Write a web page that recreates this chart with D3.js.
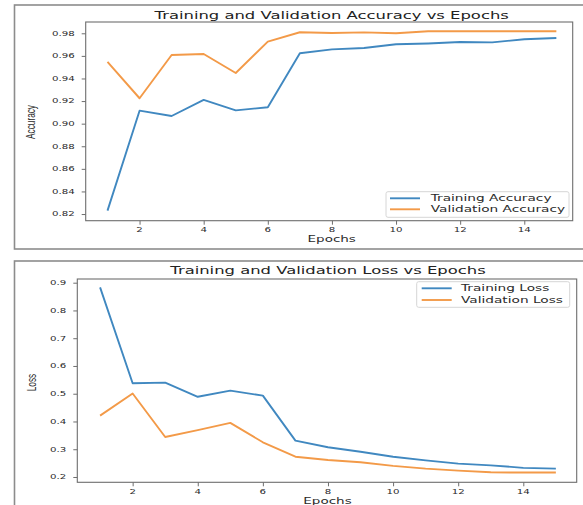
<!DOCTYPE html>
<html><head><meta charset="utf-8">
<script src="https://cdn.jsdelivr.net/npm/d3@7"></script>
<style>body{margin:0;background:#fff}svg{display:block}</style></head>
<body><svg id="c" width="583" height="505"></svg>
<script>
const epochs = [1,2,3,4,5,6,7,8,9,10,11,12,13,14,15];
const trainAcc = [0.823,0.9115,0.9068,0.921,0.9118,0.9145,0.9623,0.9658,0.967,0.9703,0.971,0.9723,0.972,0.9747,0.9758];
const valAcc   = [0.9546,0.9225,0.9608,0.9617,0.9449,0.9726,0.9809,0.9802,0.9808,0.9800,0.9818,0.9818,0.9818,0.9818,0.9818];
const trainLoss = [0.883,0.5376,0.540,0.489,0.511,0.493,0.331,0.307,0.291,0.273,0.26,0.248,0.242,0.233,0.230];
const valLoss   = [0.421,0.501,0.344,0.369,0.395,0.325,0.273,0.261,0.253,0.240,0.230,0.223,0.217,0.216,0.216];
const xTicks = [2,4,6,8,10,12,14];
const accTicks = [0.82,0.84,0.86,0.88,0.90,0.92,0.94,0.96,0.98];
const lossTicks = [0.2,0.3,0.4,0.5,0.6,0.7,0.8,0.9];
const accLabels = ["Training Accuracy","Validation Accuracy"];
const lossLabels = ["Training Loss","Validation Loss"];

const BLUE = "#4088c0", ORANGE = "#f39a48";
const svg = d3.select("#c");

function txt(g, x, y, s, size, anchor, opts={}) {
  const sy = opts.sy || 0.68;
  const sc = opts.rot ? `scale(${opts.sl || 0.69},1)` : `scale(1,${sy})`;
  return g.append("text")
    .attr("transform", `translate(${x},${y})` + (opts.rot ? ` rotate(${opts.rot})` : "") + ` ${sc}`)
    .attr("text-anchor", anchor)
    .attr("dominant-baseline", "central")
    .attr("font-family", opts.font || "DejaVu Sans")
    .attr("font-size", size)
    .attr("fill", opts.fill || "#2a2a2a")
    .text(s);
}

function panel(cfg) {
  const g = svg.append("g");
  g.append("rect").attr("x", cfg.frame[0]).attr("y", cfg.frame[1])
    .attr("width", cfg.frame[2]).attr("height", cfg.frame[3])
    .attr("fill", "none").attr("stroke", "#8c8c8c").attr("stroke-width", 1.6);
  const x = d3.scaleLinear().domain(cfg.xd).range([cfg.p.x0, cfg.p.x1]);
  const y = d3.scaleLinear().domain(cfg.yd).range([cfg.p.y1, cfg.p.y0]);

  const line = (vals) => d3.line().x((d,i)=>x(epochs[i])).y(d=>y(d))(vals);
  g.append("path").attr("d", line(cfg.s1)).attr("fill","none").attr("stroke",BLUE).attr("stroke-width",1.9).attr("stroke-linejoin","round");
  g.append("path").attr("d", line(cfg.s2)).attr("fill","none").attr("stroke",ORANGE).attr("stroke-width",1.9).attr("stroke-linejoin","round");

  g.append("rect").attr("x", cfg.p.x0).attr("y", cfg.p.y0)
    .attr("width", cfg.p.x1 - cfg.p.x0).attr("height", cfg.p.y1 - cfg.p.y0)
    .attr("fill","none").attr("stroke","#6e6e6e").attr("stroke-width",1.1);

  const xa = d3.axisBottom(x).tickValues(xTicks).tickSize(4).tickFormat("");
  const gx = g.append("g").attr("transform", `translate(0,${cfg.p.y1})`).call(xa);
  gx.select(".domain").remove();
  gx.selectAll("line").attr("stroke","#6e6e6e");
  xTicks.forEach(t => txt(g, x(t), cfg.p.y1 + 9, String(t), 10.2, "middle"));

  const ya = d3.axisLeft(y).tickValues(cfg.yt).tickSize(4).tickFormat("");
  const gy = g.append("g").attr("transform", `translate(${cfg.p.x0},0)`).call(ya);
  gy.select(".domain").remove();
  gy.selectAll("line").attr("stroke","#6e6e6e");
  cfg.yt.forEach(t => txt(g, cfg.p.x0 - 11, y(t), cfg.fmt(t), 10.2, "end"));

  txt(g, cfg.titleX, cfg.titleY, cfg.title, 16.4, "middle", {fill:"#222", sy:0.6});
  txt(g, cfg.xlX, cfg.xlY, "Epochs", 13.5, "middle", {sy:0.62});
  txt(g, cfg.ylX, cfg.ylY, cfg.ylabel, 12, "middle", {rot:-90, font:"Liberation Sans", sl:0.69});

  const L = cfg.leg;
  g.append("rect").attr("x", L.x).attr("y", L.y).attr("width", L.w).attr("height", L.h)
    .attr("rx", 2).attr("fill","#fff").attr("stroke","#d6d6d6").attr("stroke-width",1);
  [BLUE, ORANGE].forEach((c,i) => {
    const yy = L.y + L.r0 + i*L.dy;
    g.append("line").attr("x1", L.lx0).attr("x2", L.lx1).attr("y1", yy).attr("y2", yy)
      .attr("stroke", c).attr("stroke-width", 1.9);
    txt(g, L.tx, yy, cfg.labels[i], 13.7, "start", {sy:0.6});
  });
}

panel({
  frame:[14.5,5,620,244],
  p:{x0:85.7,x1:572.7,y0:22,y1:220.7},
  xd:[0.32,15.51], yd:[0.8141,0.990],
  s1:trainAcc, s2:valAcc, yt:accTicks, fmt:d3.format(".2f"),
  title:"Training and Validation Accuracy vs Epochs", titleX:331.7, titleY:15.5,
  xlX:331.7, xlY:239.5, ylX:31, ylY:122, ylabel:"Accuracy",
  labels:accLabels,
  leg:{x:386,y:191.7,w:183,h:25.6,r0:6.6,dy:11,lx0:390,lx1:420,tx:430.7}
});

panel({
  frame:[14.5,261,620,300],
  p:{x0:77.3,x1:576.7,y0:279,y1:482.3},
  xd:[0.3,15.64], yd:[0.1809,0.9133],
  s1:trainLoss, s2:valLoss, yt:lossTicks, fmt:d3.format(".1f"),
  title:"Training and Validation Loss vs Epochs", titleX:328, titleY:270.5,
  xlX:327.5, xlY:501, ylX:31.5, ylY:382.5, ylabel:"Loss",
  labels:lossLabels,
  leg:{x:416.7,y:281.7,w:153,h:25.6,r0:6.6,dy:11.7,lx0:421.7,lx1:451.7,tx:461}
});
</script></body></html>
